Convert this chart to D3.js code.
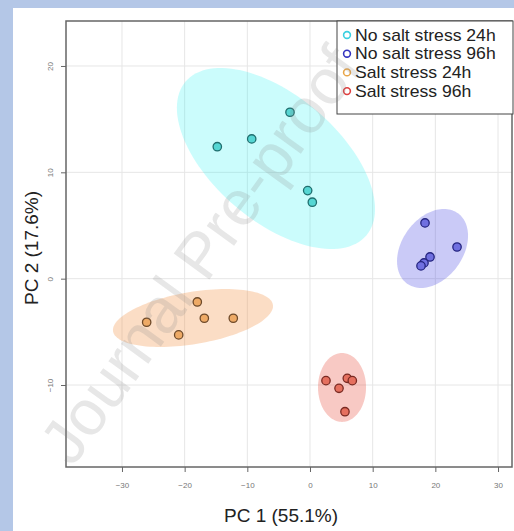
<!DOCTYPE html>
<html>
<head>
<meta charset="utf-8">
<script src="https://cdn.jsdelivr.net/npm/d3@7"></script>
<style>
body { margin: 0; background: #b4c7e7; }
svg { display: block; }
</style>
</head>
<body>
<svg id="chart" width="514" height="531"></svg>
<script>
// PCA scores, one array per group
var groups = ["No salt stress 24h", "No salt stress 96h", "Salt stress 24h", "Salt stress 96h"];
var pc1 = [
  [-14.79, -9.30, -3.19, -0.37, 0.37],
  [18.35, 23.46, 19.15, 18.19, 17.71],
  [-17.98, -16.86, -12.24, -26.06, -20.95],
  [2.55, 4.63, 5.95, 6.75, 5.58]
];
var pc2 = [
  [12.41, 13.14, 15.65, 8.28, 7.19],
  [5.24, 2.98, 2.04, 1.48, 1.20],
  [-2.19, -3.72, -3.72, -4.10, -5.29],
  [-9.59, -10.31, -9.37, -9.59, -12.51]
];
// confidence ellipses: centre and two conjugate semi-axes, in PC units
var ellipseCentre = [[-5.43, 11.30], [19.55, 2.84], [-18.67, -3.70], [5.11, -10.23]];
var ellipseAxisA = [[14.42, -7.23], [4.05, 3.31], [12.75, 1.25], [3.83, 0]];
var ellipseAxisB = [[-6.48, -4.49], [3.96, -1.68], [0.68, -2.42], [0, 3.24]];
var xTicks = [-30, -20, -10, 0, 10, 20, 30];
var yTicks = [-10, 0, 10, 20];

var AREA_FILL = ["#10f0f0", "#3a3ae0", "#f39040", "#e84d3a"];
var AREA_OPACITY = [0.22, 0.27, 0.3, 0.3];
var POINT_FILL = ["#55d6d3", "#7070e0", "#eeaa66", "#e5705f"];
var POINT_STROKE = ["#1f6e6e", "#252580", "#6e4a2a", "#7a2a22"];
var KEY_COLOUR = ["#3ad0e0", "#3535c0", "#e8a64a", "#e04040"];
var FONT = "Liberation Sans, Arial, sans-serif";

function drawChart() {
  var svg = d3.select("#chart");
  var pLeft = 66, pRight = 512, pTop = 21, pBottom = 467;

  var x = d3.scaleLinear().domain([-38.93, 32.23]).range([pLeft, pRight]);
  var y = d3.scaleLinear().domain([-17.71, 24.23]).range([pBottom, pTop]);

  // white page
  svg.append("rect").attr("x", 13).attr("y", 8).attr("width", 501).attr("height", 523).attr("fill", "#fff");

  // grid
  svg.append("g").selectAll("line").data(xTicks).enter().append("line")
    .attr("x1", function(d) { return x(d); }).attr("x2", function(d) { return x(d); })
    .attr("y1", pTop).attr("y2", pBottom)
    .attr("stroke", "#e6e6e6").attr("stroke-width", 1);
  svg.append("g").selectAll("line").data(yTicks).enter().append("line")
    .attr("y1", function(d) { return y(d); }).attr("y2", function(d) { return y(d); })
    .attr("x1", pLeft).attr("x2", pRight)
    .attr("stroke", "#e6e6e6").attr("stroke-width", 1);

  // ellipses
  var steps = d3.range(0, 121).map(function(i) { return i / 120 * 2 * Math.PI; });
  function ellipsePath(g) {
    var c = ellipseCentre[g], a = ellipseAxisA[g], b = ellipseAxisB[g];
    return d3.line()
      .x(function(t) { return x(c[0] + a[0] * Math.cos(t) + b[0] * Math.sin(t)); })
      .y(function(t) { return y(c[1] + a[1] * Math.cos(t) + b[1] * Math.sin(t)); })
      .curve(d3.curveLinearClosed)(steps);
  }
  svg.append("g").selectAll("path").data(groups).enter().append("path")
    .attr("d", function(d, g) { return ellipsePath(g); })
    .attr("fill", function(d, g) { return AREA_FILL[g]; })
    .attr("fill-opacity", function(d, g) { return AREA_OPACITY[g]; });

  // points
  groups.forEach(function(name, g) {
    svg.append("g").selectAll("circle").data(pc1[g]).enter().append("circle")
      .attr("cx", function(d) { return x(d); })
      .attr("cy", function(d, i) { return y(pc2[g][i]); })
      .attr("r", 4.2)
      .attr("fill", POINT_FILL[g])
      .attr("stroke", POINT_STROKE[g])
      .attr("stroke-width", 1.3);
  });

  // axes
  var xAxis = d3.axisBottom(x).tickValues(xTicks).tickSize(5).tickPadding(10);
  var yAxis = d3.axisLeft(y).tickValues(yTicks).tickSize(5).tickPadding(8);
  var gx = svg.append("g").attr("transform", "translate(0," + pBottom + ")").call(xAxis);
  var gy = svg.append("g").attr("transform", "translate(" + pLeft + ",0)").call(yAxis);
  gx.select(".domain").remove();
  gy.select(".domain").remove();
  [gx, gy].forEach(function(ax) {
    ax.selectAll(".tick line").attr("stroke", "#666");
    ax.selectAll(".tick text").attr("fill", "#777").style("font-size", "8px").style("font-family", FONT);
  });
  gy.selectAll(".tick text")
    .attr("text-anchor", "middle").attr("x", null)
    .attr("transform", "translate(-16,0) rotate(-90)")
    .attr("dy", "0.35em");

  // panel border
  svg.append("rect").attr("x", pLeft).attr("y", pTop).attr("width", pRight - pLeft).attr("height", pBottom - pTop)
    .attr("fill", "none").attr("stroke", "#666").attr("stroke-width", 1.5);

  // axis titles
  svg.append("text").attr("x", 281).attr("y", 522).attr("text-anchor", "middle")
    .style("font-family", FONT).style("font-size", "19px").attr("fill", "#222")
    .text("PC 1 (55.1%)");
  svg.append("text").attr("transform", "translate(38,248) rotate(-90)").attr("text-anchor", "middle")
    .style("font-family", FONT).style("font-size", "19px").attr("fill", "#222")
    .text("PC 2 (17.6%)");

  // legend
  var key = svg.append("g");
  key.append("rect").attr("x", 337).attr("y", 21).attr("width", 176).attr("height", 93)
    .attr("fill", "#fff").attr("stroke", "#444").attr("stroke-width", 1);
  var rows = key.selectAll("g.row").data(groups).enter().append("g")
    .attr("class", "row")
    .attr("transform", function(d, i) { return "translate(0," + (35 + i * 18.7) + ")"; });
  rows.append("circle").attr("cx", 347).attr("cy", 0).attr("r", 3.4)
    .attr("fill", "none").attr("stroke", function(d, i) { return KEY_COLOUR[i]; }).attr("stroke-width", 1.6);
  rows.append("text").attr("transform", "translate(355,0) scale(1.1,1)").attr("dy", "0.36em")
    .style("font-family", FONT).style("font-size", "16px").attr("fill", "#222")
    .text(function(d) { return d; });

  // watermark
  svg.append("text").attr("transform", "translate(200,255) rotate(-54)")
    .attr("text-anchor", "middle").attr("dominant-baseline", "central")
    .style("font-family", FONT).style("font-size", "64px")
    .attr("fill", "#888").attr("fill-opacity", 0.2)
    .text("Journal Pre-proof");
}

drawChart();
</script>
</body>
</html>
